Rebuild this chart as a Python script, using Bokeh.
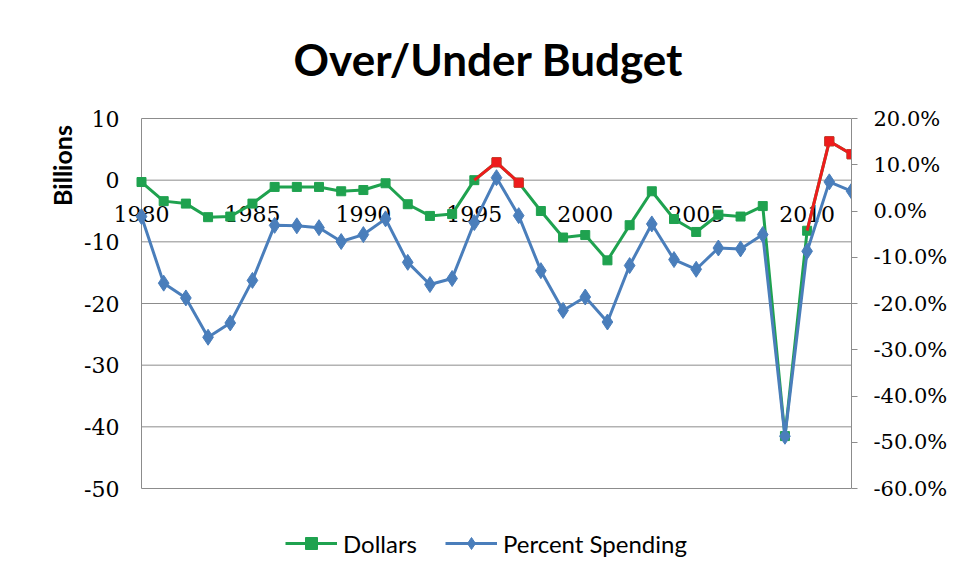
from math import pi
from bokeh.plotting import figure
from bokeh.models import (Range1d, LinearAxis, FixedTicker, PrintfTickFormatter,
                          Legend, LegendItem)
from bokeh.embed import file_html
from bokeh.resources import INLINE
from bokeh.core.properties import value

# ---------------- data ----------------
years = [1980, 1981, 1982, 1983, 1984, 1985, 1986, 1987, 1988, 1989, 1990,
         1991, 1992, 1993, 1994, 1995, 1996, 1997, 1998, 1999, 2000, 2001,
         2002, 2003, 2004, 2005, 2006, 2007, 2008, 2009, 2010, 2011, 2012]
dollars = [-0.3, -3.4, -3.8, -6.0, -5.9, -3.8, -1.1, -1.1, -1.1, -1.8, -1.6,
           -0.5, -3.9, -5.8, -5.5, 0.0, 2.9, -0.4, -5.0, -9.3, -8.9, -13.0,
           -7.3, -1.8, -6.3, -8.4, -5.6, -5.9, -4.2, -41.5, -8.2, 6.3, 4.2]
percent = [-1.2, -15.6, -18.8, -27.3, -24.2, -15.0, -3.1, -3.2, -3.6, -6.6, -5.1,
           -1.7, -11.1, -15.9, -14.6, -2.5, 7.2, -1.0, -12.9, -21.5, -18.6, -24.0,
           -11.8, -2.8, -10.5, -12.6, -8.0, -8.2, -5.1, -48.7, -8.7, 6.3, 4.3]
over_years = [1996, 1997, 2011, 2012]
year_labels = [1980, 1985, 1990, 1995, 2000, 2005, 2010]
left_ticks = [-50, -40, -30, -20, -10, 0, 10]
right_ticks = [-60, -50, -40, -30, -20, -10, 0, 10, 20]
title_text = "Over/Under Budget"
left_title = "Billions"
year_label_level = -5.5          # category labels sit just under the zero line

# ---------------- layout (pixels) ----------------
CANVAS_H = 570
PLOT_L, PLOT_R, PLOT_T, PLOT_B = 141, 851, 118, 488   # the plotting box
x_start, x_end = years[0], years[-1]
y_low, y_high = left_ticks[0], left_ticks[-1]
p_low, p_high = right_ticks[0], right_ticks[-1]
px_per_year = (PLOT_R - PLOT_L) / (x_end - x_start)
px_per_b = (PLOT_B - PLOT_T) / (y_high - y_low)
px_per_p = (PLOT_B - PLOT_T) / (p_high - p_low)


def dx(px):   # canvas x pixel -> year units
    return x_start + (px - PLOT_L) / px_per_year


def dy(px):   # canvas y pixel -> billions units
    return y_high - (px - PLOT_T) / px_per_b


GREEN = "#1fa24f"
RED = "#ee1c1c"
BLUE = "#4a7ebb"
GRID = "#8c8c8c"
SERIF = "DejaVu Serif"

p = figure(frame_width=PLOT_R, frame_height=CANVAS_H, output_backend="svg",
           toolbar_location=None,
           x_range=Range1d(dx(0), x_end),
           y_range=Range1d(dy(CANVAS_H), dy(0)),
           x_axis_location=None, y_axis_location=None,
           min_border_left=0, min_border_right=89,
           min_border_top=0, min_border_bottom=0)
p.title.visible = False
p.background_fill_color = "white"
p.border_fill_color = "white"
p.outline_line_color = None
p.xgrid.visible = False
p.ygrid.visible = False

# gridlines and the left axis line
p.segment(x0=[x_start] * len(left_ticks), y0=left_ticks,
          x1=[x_end] * len(left_ticks), y1=left_ticks,
          line_color=GRID, line_width=1)
p.segment(x0=[x_start], y0=[y_low], x1=[x_start], y1=[y_high],
          line_color=GRID, line_width=1)

# left tick labels
p.text(x=[x_start] * len(left_ticks), y=left_ticks,
       text=[str(t) for t in left_ticks], x_offset=-22,
       text_font=value(SERIF), text_font_size="22px",
       text_align="right", text_baseline="middle", text_color="black")

# category labels under the zero line
p.text(x=year_labels, y=[year_label_level] * len(year_labels),
       text=[str(y) for y in year_labels],
       text_font=value(SERIF), text_font_size="22px",
       text_align="center", text_baseline="middle", text_color="black")

# chart title
p.text(x=[dx(488)], y=[dy(58)], text=[title_text],
       text_font=value("Lato"), text_font_size="44px", text_font_style="bold",
       text_align="center", text_baseline="middle", text_color="black")

# left axis title
p.text(x=[dx(61)], y=[dy(165)], text=[left_title], angle=pi / 2,
       text_font=value("Lato"), text_font_size="25px", text_font_style="bold",
       text_align="center", text_baseline="middle", text_color="black")

# right axis
p.extra_y_ranges = {"pct": Range1d(p_high - (CANVAS_H - PLOT_T) / px_per_p,
                                   p_high + PLOT_T / px_per_p)}
ra = LinearAxis(y_range_name="pct", ticker=FixedTicker(ticks=right_ticks),
                formatter=PrintfTickFormatter(format="%.1f%%"),
                bounds=(p_low, p_high))
ra.axis_line_color = GRID
ra.major_tick_line_color = GRID
ra.major_tick_out = 6
ra.major_tick_in = 0
ra.minor_tick_line_color = None
ra.major_label_text_font = SERIF
ra.major_label_text_font_size = "21px"
ra.major_label_text_color = "black"
ra.major_label_standoff = 16
p.add_layout(ra, "right")

# dollars series
g_line = p.line(years, dollars, line_color=GREEN, line_width=3)
g_pts = p.scatter(years, dollars, marker="square", size=9, color=GREEN)

idx = [i for i, y in enumerate(years) if y in over_years]
p.segment(x0=[years[i - 1] for i in idx], y0=[dollars[i - 1] for i in idx],
          x1=[years[i] for i in idx], y1=[dollars[i] for i in idx],
          line_color=RED, line_width=3)
p.scatter([years[i] for i in idx], [dollars[i] for i in idx],
          marker="square", size=9, color=RED)

# percent series
b_line = p.line(years, percent, y_range_name="pct", line_color=BLUE, line_width=3)
b_pts = p.scatter(years, percent, y_range_name="pct", marker="diamond", size=16,
                  color=BLUE)

legend = Legend(items=[LegendItem(label="Dollars", renderers=[g_line, g_pts]),
                       LegendItem(label="Percent Spending", renderers=[b_line, b_pts])],
                orientation="horizontal", location=(285, 12),
                border_line_color=None, background_fill_alpha=0,
                label_text_font="Lato", label_text_font_size="24px",
                label_text_color="black", label_standoff=6,
                glyph_width=52, glyph_height=30, spacing=28, padding=0, margin=0)
p.add_layout(legend, "center")

open("out.html", "w").write(file_html(p, INLINE))
